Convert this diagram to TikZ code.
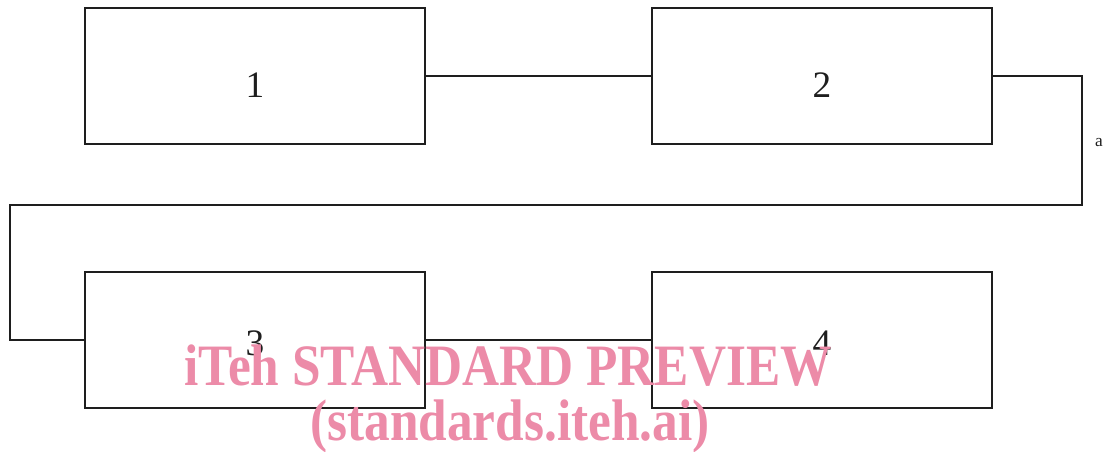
\documentclass[tikz,border=0pt]{standalone}
\usepackage{fontspec}
\newfontfamily\wmfont{Liberation Serif}
\definecolor{wmpink}{RGB}{236,139,168}
\definecolor{ink}{RGB}{30,30,30}
\begin{document}
\begin{tikzpicture}[x=0.75pt,y=-0.75pt,
  blockbox/.style={draw=ink,line width=1.7pt,minimum width=340*0.75pt,minimum height=136*0.75pt,inner sep=0pt},
  numlabel/.style={font=\wmfont\fontsize{28}{30}\selectfont,text=ink,inner sep=0pt},
  link/.style={draw=ink,line width=0.8pt},
  wmark/.style={font=\wmfont\bfseries\fontsize{44}{46}\selectfont,text=wmpink,xscale=0.875}]
\useasboundingbox (0,0) rectangle (1107,452);
\node[blockbox] (b1) at (255,76) {};
\node[blockbox] (b2) at (822,76) {};
\node[blockbox] (b3) at (255,340) {};
\node[blockbox] (b4) at (822,340) {};
\node[numlabel] (n1) at (255,85) {1};
\node[numlabel] (n2) at (822,85) {2};
\node[numlabel] (n3) at (255,343) {3};
\node[numlabel] (n4) at (822,343) {4};
\coordinate (c1) at (1082,76);
\coordinate (c2) at (1082,205);
\coordinate (c3) at (10,205);
\coordinate (c4) at (10,340);
\draw[link] (b1.east) -- (b2.west);
\draw[link] (b2.east) -- (c1) -- (c2) -- (c3) -- (c4) -- (b3.west);
\draw[link] (b3.east) -- (b4.west);
\node[font=\wmfont\fontsize{13}{14}\selectfont,text=ink] (la) at (1099,143) {a};
\node[wmark] (wm1) at (508,366) {iTeh STANDARD PREVIEW};
\node[wmark] (wm2) at (510,426) {(standards.iteh.ai)};
\end{tikzpicture}
\end{document}
